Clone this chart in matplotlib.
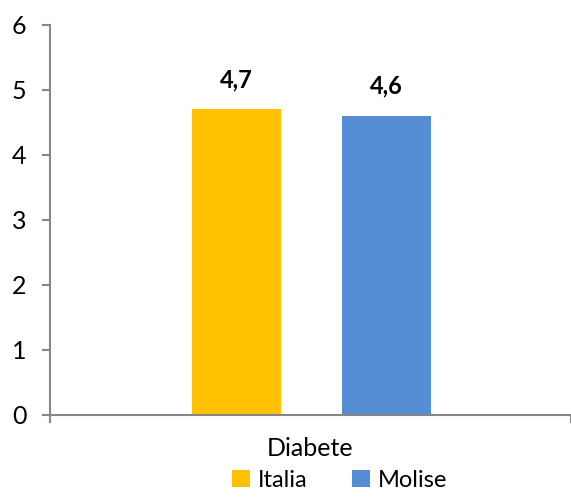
import matplotlib.pyplot as plt
from matplotlib.patches import Patch

plt.rcParams['font.family'] = ['Lato', 'DejaVu Sans']

category = "Diabete"
series = ["Italia", "Molise"]
values = [4.7, 4.6]
value_labels = ["4,7", "4,6"]
colors = ["#FFC000", "#558ED5"]
y_ticks = [0, 1, 2, 3, 4, 5, 6]

fig = plt.figure(figsize=(5.71, 4.98), dpi=100)
ax = fig.add_axes([0.0876, 0.1667, 0.9124, 0.7831])

offsets = [-0.142, 0.145]
width = 0.171
for off, v, lab, c in zip(offsets, values, value_labels, colors):
    ax.bar(off, v, width=width, color=c)
    ax.text(off, v + 0.28, lab, ha='center', va='bottom', fontsize=17,
            fontweight='bold')

ax.set_xlim(-0.5, 0.5)
ax.set_ylim(0, 6)
ax.set_yticks(y_ticks)
ax.set_xticks([0])
ax.set_xticklabels([category])
ax.set_xticks([-0.5, 0.5], minor=True)

grey = "#868686"
for s in ['top', 'right']:
    ax.spines[s].set_visible(False)
for s in ['left', 'bottom']:
    ax.spines[s].set_color(grey)
    ax.spines[s].set_linewidth(1.5)

ax.tick_params(axis='y', length=6, width=1.5, color=grey, labelsize=18,
               pad=11)
ax.tick_params(axis='x', which='major', length=0, labelsize=18, pad=16)
ax.tick_params(axis='x', which='minor', length=6, width=1.5, color=grey)

handles = [Patch(facecolor=c, label=s) for s, c in zip(series, colors)]
fig.legend(handles=handles, loc='lower center', ncol=2, frameon=False,
           fontsize=17, bbox_to_anchor=(0.595, -0.028), handlelength=0.75,
           handleheight=0.75, handletextpad=0.35, columnspacing=1.9)

fig.savefig("out.png", dpi=100)
